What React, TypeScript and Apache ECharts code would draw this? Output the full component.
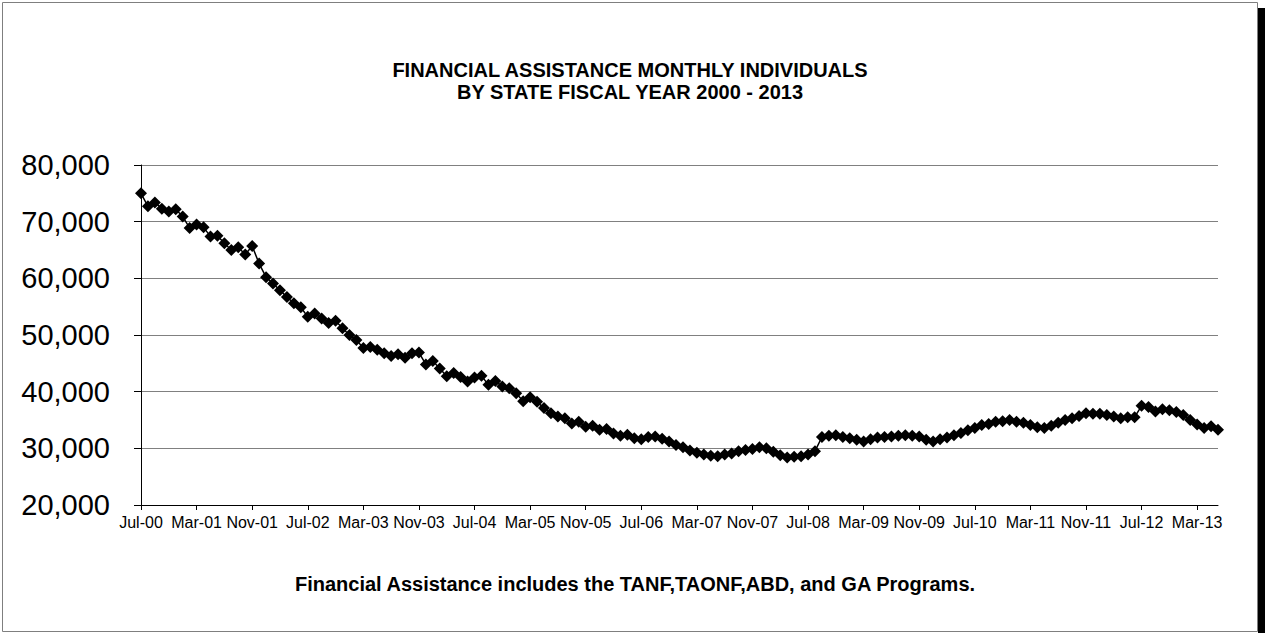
import React, { useEffect, useRef } from "react";
import * as echarts from "echarts";

const titleLines = ["FINANCIAL ASSISTANCE MONTHLY INDIVIDUALS", "BY STATE FISCAL YEAR 2000 - 2013"];
const footnote = "Financial Assistance includes the TANF,TAONF,ABD, and GA Programs.";

const monthNames = ["Jan", "Feb", "Mar", "Apr", "May", "Jun", "Jul", "Aug", "Sep", "Oct", "Nov", "Dec"];
const startYear = 2000;
const startMonth = 6; // July

const individuals = [
  75000, 72700, 73400, 72300, 71800, 72200, 70900, 68900, 69500, 69000, 67400, 67500,
  66200, 65000, 65500, 64200, 65700, 62600, 60200, 59100, 57900, 56700, 55600, 54900,
  53200, 53800, 52900, 52100, 52500, 51200, 50000, 49100, 47700, 47900, 47400, 46800,
  46300, 46600, 46000, 46800, 46900, 44800, 45400, 44100, 42700, 43300, 42600, 41800,
  42500, 42800, 41200, 41900, 40900, 40600, 39700, 38300, 39000, 38200, 37100, 36200,
  35600, 35300, 34400, 34700, 33800, 34000, 33300, 33400, 32600, 32200, 32400, 31800,
  31600, 32000, 32100, 31700, 31200, 30600, 30200, 29600, 29200, 28900, 28700, 28600,
  28900, 29100, 29500, 29700, 29900, 30200, 30000, 29400, 28800, 28400, 28500, 28600,
  28900, 29500, 32000, 32200, 32300, 32000, 31800, 31500, 31200, 31600, 31900, 32000,
  32100, 32200, 32300, 32200, 32100, 31500, 31200, 31600, 31900, 32300, 32700, 33200,
  33600, 34100, 34300, 34700, 34800, 35000, 34700, 34500, 34100, 33700, 33600, 34000,
  34500, 35000, 35300, 35700, 36200, 36100, 36100, 35900, 35600, 35300, 35500, 35500,
  37500, 37300, 36500, 36900, 36700, 36400, 35900, 35000, 34200, 33600, 33900, 33300,
];

const categories: string[] = individuals.map((_, i) => {
  const m = (startMonth + i) % 12;
  const y = startYear + Math.floor((startMonth + i) / 12);
  return monthNames[m] + "-" + String(y % 100).padStart(2, "0");
});

const FONT = "'Liberation Sans', Arial, sans-serif";

export default function App() {
  const ref = useRef<HTMLDivElement>(null);
  useEffect(() => {
    document.body.style.margin = "0";
    document.body.style.overflow = "hidden";
    const chart = echarts.init(ref.current!, null, { renderer: "svg" });
    const textBase = { fontWeight: "bold", fontFamily: FONT, fill: "#000", align: "center", verticalAlign: "middle" };
    chart.setOption({
      animation: false,
      backgroundColor: "#ffffff",
      textStyle: { fontFamily: FONT },
      grid: { left: 141, right: 47, top: 165, bottom: 128, containLabel: false, outerBoundsMode: "none" },
      xAxis: {
        type: "category",
        data: categories,
        boundaryGap: false,
        axisLine: { lineStyle: { color: "#000", width: 1 } },
        axisTick: { show: true, interval: 7, length: 5, lineStyle: { color: "#000" } },
        axisLabel: {
          interval: 7,
          color: "#000",
          fontSize: 16,
          fontFamily: FONT,
          margin: 9,
          hideOverlap: false,
        },
        splitLine: { show: false },
      },
      yAxis: {
        type: "value",
        min: 20000,
        max: 80000,
        interval: 10000,
        axisLine: { show: true, lineStyle: { color: "#000", width: 1 } },
        axisTick: { show: true, length: 7, lineStyle: { color: "#000" } },
        axisLabel: {
          color: "#000",
          fontSize: 29,
          fontFamily: FONT,
          margin: 31,
          formatter: (v: number) => v.toLocaleString("en-US"),
        },
        splitLine: { show: true, lineStyle: { color: "#808080", width: 1 } },
      },
      series: [
        {
          type: "line",
          data: individuals,
          symbol: "diamond",
          symbolSize: 12,
          showAllSymbol: true,
          itemStyle: { color: "#000" },
          lineStyle: { color: "#000", width: 1.5 },
        },
      ],
      graphic: [
        {
          type: "rect",
          shape: { x: 2.5, y: 2.5, width: 1255, height: 629 },
          style: { fill: "none", stroke: "#7f7f7f", lineWidth: 1 },
          silent: true,
        },
        {
          type: "rect",
          shape: { x: 1258, y: 8, width: 7, height: 625 },
          style: { fill: "#000" },
          silent: true,
        },
        { type: "text", x: 630, y: 70, style: { ...textBase, text: titleLines[0], fontSize: 20 } },
        { type: "text", x: 630, y: 92, style: { ...textBase, text: titleLines[1], fontSize: 20 } },
        { type: "text", x: 635, y: 584, style: { ...textBase, text: footnote, fontSize: 20 } },
      ],
    });
    return () => chart.dispose();
  }, []);
  return <div ref={ref} style={{ width: 1265, height: 633 }} />;
}
